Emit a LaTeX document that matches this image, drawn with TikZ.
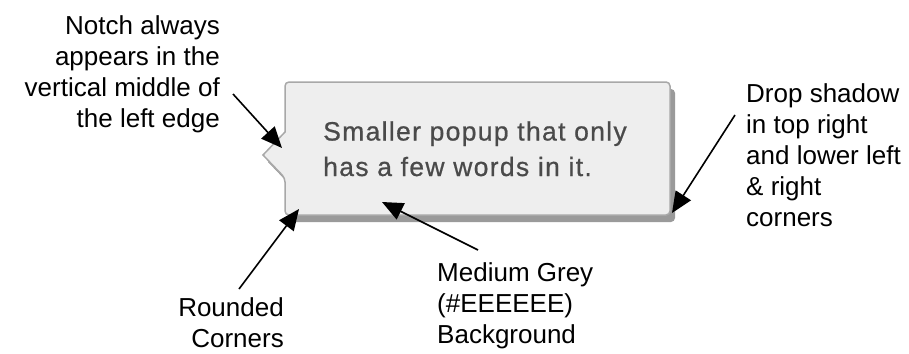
\documentclass[tikz,border=0pt]{standalone}
\usepackage{fontspec}
\setmainfont{Liberation Sans}
\newfontfamily\popfont[LetterSpace=5.0,FakeBold=0.7]{Liberation Sans}
\usetikzlibrary{arrows.meta}

\definecolor{popfill}{HTML}{EEEEEE}
\definecolor{popborder}{HTML}{A8A8A8}
\definecolor{popshadow}{HTML}{9A9A9A}
\definecolor{poptext}{HTML}{4A4A4A}

\tikzset{
  note/.style={inner sep=0pt, font=\fontsize{26}{31}\selectfont, text=black},
  pointer/.style={line width=1.6pt, -{Triangle[length=21pt,width=18pt]}},
}

\begin{document}
\begin{tikzpicture}[x=1pt, y=-1pt]
\useasboundingbox (0,0) rectangle (909,353);

% outline of the popup with its notch on the left edge
\def\popuppath{[rounded corners=4pt] (285,132) -- (285,82) -- (670,82) -- (670,215) -- (285,215) -- (285,178) [sharp corners] -- (263,155) -- cycle}

% drop shadow, offset down and to the right
\fill[popshadow, shift={(5,7)}] \popuppath;
% popup body
\filldraw[fill=popfill, draw=popborder, line width=1.5pt] \popuppath;

% the base anchor of a multi-line node sits on its last line
\node[inner sep=0pt, anchor=base west, align=left, text=poptext,
      font=\popfont\fontsize{26.5}{35.5}\selectfont] (msg) at (323,176)
  {Smaller popup that only\\has a few words in it.};

% annotations
\node[note, anchor=base east, align=right] (notch) at (220,127)
  {Notch always\\appears in the\\vertical middle of\\the left edge};
\node[note, anchor=base east, align=right] (round) at (284,347)
  {Rounded\\Corners};
\node[note, anchor=base west, align=left] (bg) at (437,343)
  {Medium Grey\\(\#EEEEEE)\\Background};
\node[note, anchor=base west, align=left] (shadow) at (746,226)
  {Drop shadow\\in top right\\and lower left\\\& right\\corners};

% arrow ends
\coordinate (notchFrom) at (233,94);
\coordinate (notchTo) at (282,148);
\coordinate (roundFrom) at (239,289);
\coordinate (roundTo) at (299,209);
\coordinate (bgFrom) at (478,250);
\coordinate (bgTo) at (382,202);
\coordinate (shadowFrom) at (735,115);
\coordinate (shadowTo) at (672,213);

\draw[pointer] (notchFrom) -- (notchTo);
\draw[pointer] (roundFrom) -- (roundTo);
\draw[pointer] (bgFrom) -- (bgTo);
\draw[pointer] (shadowFrom) -- (shadowTo);
\end{tikzpicture}
\end{document}
